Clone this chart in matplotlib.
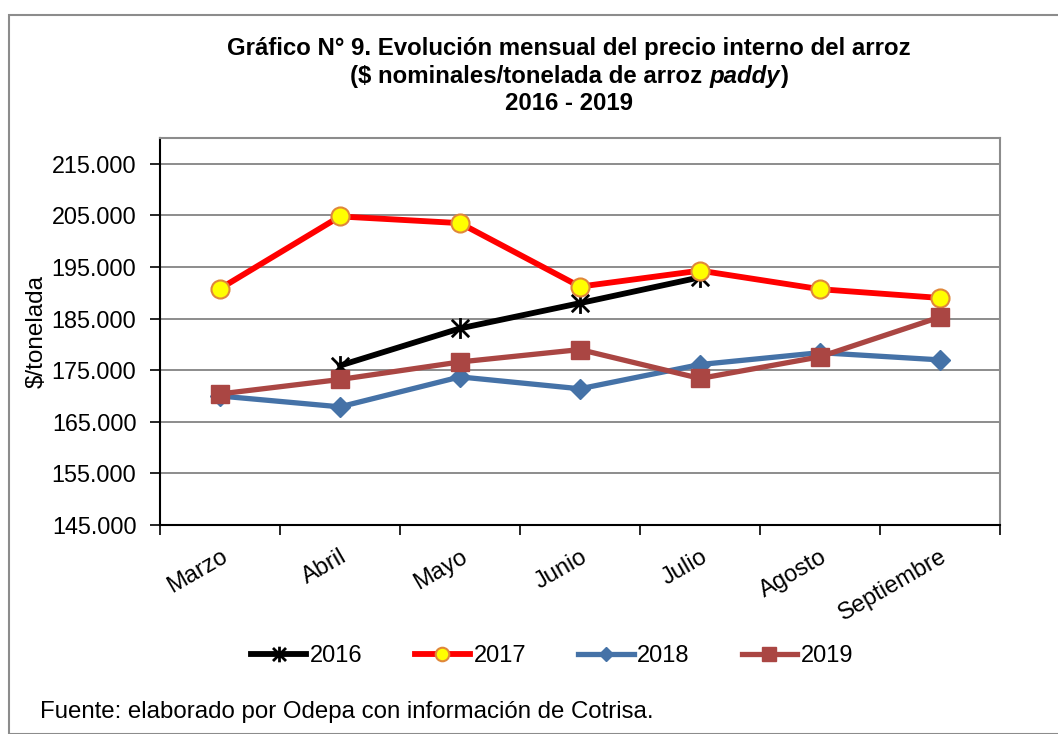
import numpy as np
import matplotlib
matplotlib.use('Agg')
import matplotlib.pyplot as plt
from matplotlib.patches import Rectangle
from matplotlib.path import Path

plt.rcParams['font.family'] = ['Liberation Sans', 'DejaVu Sans']

# Data
months = ['Marzo', 'Abril', 'Mayo', 'Junio', 'Julio', 'Agosto', 'Septiembre']
precio_2016 = [np.nan, 175900, 183100, 188000, 193000, np.nan, np.nan]
precio_2017 = [190800, 204800, 203500, 191200, 194300, 190700, 189000]
precio_2018 = [170000, 167900, 173700, 171400, 176100, 178400, 177000]
precio_2019 = [170400, 173200, 176600, 179000, 173400, 177600, 185300]
y_ticks = [145000, 155000, 165000, 175000, 185000, 195000, 205000, 215000]
y_tick_labels = ['145.000', '155.000', '165.000', '175.000',
                 '185.000', '195.000', '205.000', '215.000']

# Excel style "star" marker: an X with a vertical bar
star = Path([(-1, -1), (1, 1), (-1, 1), (1, -1), (0, -1.2), (0, 1.2)],
            [Path.MOVETO, Path.LINETO, Path.MOVETO, Path.LINETO, Path.MOVETO, Path.LINETO])

fig = plt.figure(figsize=(10.58, 7.34), dpi=100)
ax = fig.add_axes([160 / 1058, 209 / 734, 840 / 1058, 387 / 734])

x = np.arange(len(months))

ax.plot(x, precio_2016, color='black', lw=4.2, marker=star, ms=15,
        mec='black', mew=2.0, label='2016', zorder=3)
ax.plot(x, precio_2017, color='#FF0000', lw=4.2, marker='o', ms=13,
        mfc='#FFFF00', mec='#E0873A', mew=1.5, label='2017', zorder=4)
ax.plot(x, precio_2018, color='#4572A7', lw=3.8, marker='D', ms=10,
        mfc='#4572A7', mec='#4572A7', label='2018', zorder=5)
ax.plot(x, precio_2019, color='#AA4643', lw=3.8, marker='s', ms=13,
        mfc='#AA4643', mec='#AA4643', label='2019', zorder=6)

ax.set_xlim(-0.5, len(months) - 0.5)
ax.set_ylim(145000, 220000)

ax.set_yticks(y_ticks)
ax.set_yticklabels(y_tick_labels, fontsize=16.8)
ax.tick_params(axis='y', direction='out', length=7, width=1.2, pad=10)

ax.set_xticks(x)
ax.set_xticklabels(months, fontsize=17, rotation=30, ha='right',
                   va='top', rotation_mode='anchor')
ax.tick_params(axis='x', which='major', length=0, pad=15)
ax.set_xticks(np.arange(-0.5, len(months)), minor=True)
ax.tick_params(axis='x', which='minor', direction='out', length=7, width=1.2)

ax.grid(axis='y', color='#6e6e6e', lw=1.1)
ax.set_axisbelow(True)
for side in ['left', 'bottom']:
    ax.spines[side].set_color('black')
    ax.spines[side].set_linewidth(1.5)
for side in ['top', 'right']:
    ax.spines[side].set_color('#8c8c8c')
    ax.spines[side].set_linewidth(1.5)

ax.set_ylabel('\\$/tonelada', fontsize=17.5)
ax.yaxis.set_label_coords(-112 / 840, 0.5)

# Title, three lines, with "paddy" in bold italic
cx = 569 / 1058
fs_title = 17.3
fig.text(cx, 1 - 48 / 734, 'Gráfico N° 9. Evolución mensual del precio interno del arroz',
         ha='center', va='center', fontsize=fs_title, fontweight='bold')
fig.text(cx, 1 - 103 / 734, '2016 - 2019',
         ha='center', va='center', fontsize=fs_title, fontweight='bold')

renderer = fig.canvas.get_renderer()
parts = [('(\\$ nominales/tonelada de arroz ', 'normal'), ('paddy', 'italic'), (')', 'normal')]
texts = []
for s, style in parts:
    t = fig.text(0, 1 - 76 / 734, s, ha='left', va='center', fontsize=fs_title,
                 fontweight='bold', fontstyle=style)
    texts.append(t)
widths = [t.get_window_extent(renderer).width / fig.bbox.width for t in texts]
x0 = cx - sum(widths) / 2
for t, w in zip(texts, widths):
    t.set_x(x0)
    x0 += w

fig.legend(loc='center', bbox_to_anchor=(552 / 1058, 1 - 656 / 734), ncol=4,
           frameon=False, fontsize=17, handlelength=2.35, handletextpad=0.15,
           columnspacing=2.2, markerscale=0.75)

fig.text(40 / 1058, 1 - 712 / 734, 'Fuente: elaborado por Odepa con información de Cotrisa.',
         ha='left', va='center', fontsize=17.3)

# Outer chart frame
fig.patches.append(Rectangle((9 / 1058, 0), 1.2, 1 - 15 / 734, transform=fig.transFigure,
                             fill=False, edgecolor='#8c8c8c', lw=1.5))

fig.savefig('out.png', dpi=100)
